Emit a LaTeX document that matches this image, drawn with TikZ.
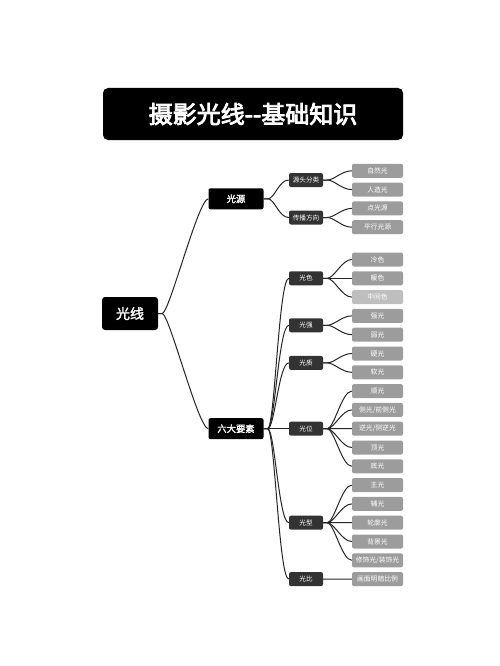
\documentclass[tikz,border=0pt]{standalone}
\usepackage{fontspec}
\newfontfamily\cjk{Noto Sans CJK SC}[AutoFakeBold=2]
\newfontfamily\cjkheavy{Noto Sans CJK SC}[FakeBold=3.5]
\usetikzlibrary{positioning}
\definecolor{boxdark}{HTML}{333333}
\definecolor{leafgray}{HTML}{9C9C9C}
\definecolor{leaflight}{HTML}{BEBEBE}
\definecolor{linkgray}{HTML}{262626}

\begin{document}
\begin{tikzpicture}[x=1pt,y=-1pt,
		box/.style={text=white,inner sep=0pt,rounded corners=2pt},
		heading/.style={box,fill=black,rounded corners=5pt,minimum width=300pt,minimum height=52pt,font=\cjkheavy\fontsize{24}{28}\selectfont},
		rootbox/.style={box,fill=black,rounded corners=3pt,minimum width=56pt,minimum height=33pt,font=\cjk\bfseries\fontsize{14}{16}\selectfont},
		lone/.style={box,fill=black,minimum width=55pt,minimum height=21pt,font=\cjk\bfseries\fontsize{9.3}{11}\selectfont},
		ltwo/.style={box,fill=boxdark,minimum width=34pt,minimum height=14pt,font=\cjk\fontsize{6.6}{8}\selectfont},
		leaf/.style={box,minimum width=51pt,minimum height=14pt,font=\cjk\fontsize{6.8}{8}\selectfont},
		link/.style={draw=linkgray,line width=1pt}]
			\useasboundingbox (0,0) rectangle (500,666);
			\node[heading] (title) at (253,114) {摄影光线{-}{-}基础知识};
			\node[rootbox] (light) at (130,313.5) {光线};
			\node[lone] (source) at (236,198.8) {光源};
			\node[lone] (six) at (236,428.7) {六大要素};
			\node[ltwo] (kind) at (306,180) {源头分类};
			\node[ltwo] (dir) at (306,217.5) {传播方向};
			\foreach \t [count=\i] in {自然光,人造光,点光源,平行光源} \node[leaf,fill=leafgray] (s\i) at (377.5,152+18.8*\i) {\t};
			\node[ltwo] (color) at (306,278.3) {光色};
			\node[ltwo] (strength) at (306,325.3) {光强};
			\node[ltwo] (quality) at (306,362.9) {光质};
			\node[ltwo] (position) at (306,428.7) {光位};
			\node[ltwo] (pattern) at (306,522.7) {光型};
			\node[ltwo] (ratio) at (306,579.1) {光比};
			\foreach \t/\c [count=\i from 0] in {冷色/leafgray,暖色/leafgray,中间色/leaflight,强光/leafgray,弱光/leafgray,硬光/leafgray,软光/leafgray,顺光/leafgray,{侧光/前侧光}/leafgray,{逆光/侧逆光}/leafgray,顶光/leafgray,底光/leafgray,主光/leafgray,辅光/leafgray,轮廓光/leafgray,背景光/leafgray,{修饰光/装饰光}/leafgray,画面明暗比例/leafgray} \node[leaf,fill=\c] (l\i) at (377.5,259.5+18.8*\i) {\t};
			\foreach \a/\b in {light/source,light/six,source/kind,source/dir,kind/s1,kind/s2,dir/s3,dir/s4,six/color,six/strength,six/quality,six/position,six/pattern,six/ratio,color/l0,color/l1,color/l2,strength/l3,strength/l4,quality/l5,quality/l6,position/l7,position/l8,position/l9,position/l10,position/l11,pattern/l12,pattern/l13,pattern/l14,pattern/l15,pattern/l16,ratio/l17} \draw[link] (\a.east) -- ++(4,0) .. controls +(7,0) and +(-10,0) .. (\b.west);
		\end{tikzpicture}
\end{document}
